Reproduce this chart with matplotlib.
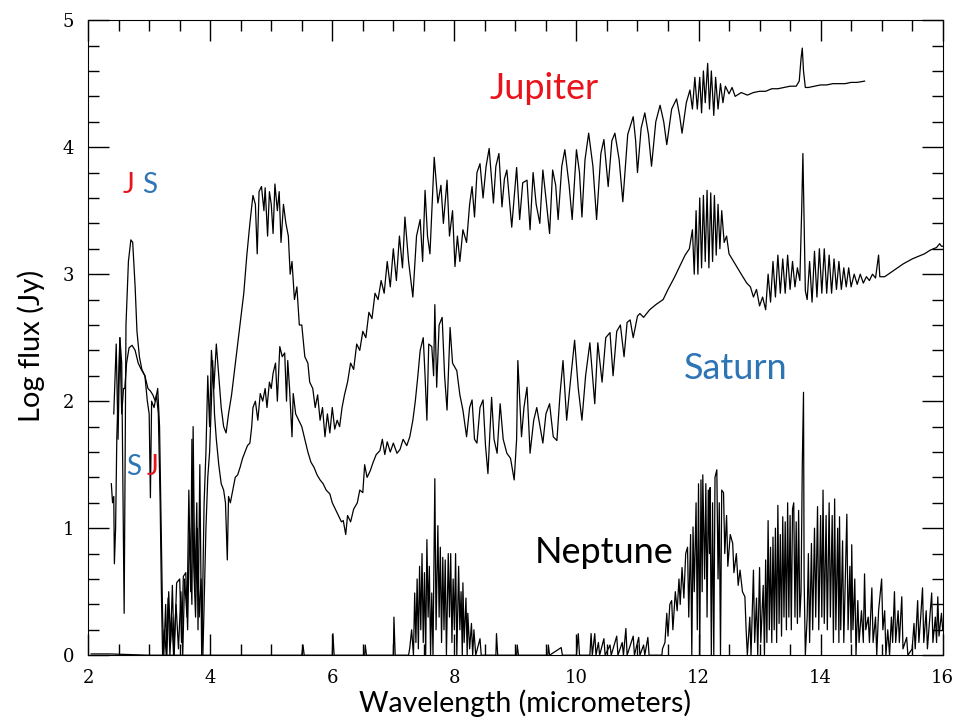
import numpy as np
import matplotlib
matplotlib.use("Agg")
import matplotlib.pyplot as plt
from matplotlib.ticker import MultipleLocator

# spectra: (wavelength um, log flux Jy)
jupiter = [
    (2.42, 1.9), (2.46, 2.45), (2.49, 1.7), (2.52, 2.5), (2.55, 2.3), (2.59, 0.33),
    (2.62, 2.6), (2.66, 3.1), (2.7, 3.27), (2.73, 3.25), (2.77, 2.9), (2.8, 2.55),
    (2.84, 2.35), (2.88, 2.25), (2.93, 2.2), (2.98, 2.1), (3.02, 2.08), (3.06, 2.05),
    (3.1, 2.0), (3.14, 2.1), (3.17, 1.8), (3.2, 0.9), (3.22, 0.3), (3.24, 0.0),
    (3.27, 0.4), (3.29, 0.0), (3.32, 0.5), (3.35, 0.1), (3.38, 0.55), (3.41, 0.0),
    (3.45, 0.57), (3.5, 0.6), (3.53, 0.1), (3.56, 0.62), (3.6, 0.65), (3.63, 0.2),
    (3.66, 1.0), (3.7, 0.4), (3.72, 1.8), (3.75, 0.5), (3.78, 1.2), (3.8, 0.2),
    (3.83, 1.5), (3.86, 0.0), (3.9, 1.2), (3.93, 1.6), (3.96, 2.2), (3.99, 1.8),
    (4.02, 2.4), (4.06, 2.1), (4.1, 2.45), (4.14, 2.2), (4.18, 1.95), (4.22, 1.8),
    (4.26, 1.75), (4.3, 1.9), (4.35, 2.05), (4.4, 2.25), (4.45, 2.45), (4.5, 2.65),
    (4.55, 2.85), (4.6, 3.15), (4.65, 3.4), (4.7, 3.62), (4.74, 3.55), (4.77, 3.16),
    (4.8, 3.65), (4.84, 3.69), (4.88, 3.5), (4.9, 3.68), (4.94, 3.3), (4.97, 3.65),
    (5.0, 3.55), (5.03, 3.32), (5.06, 3.71), (5.1, 3.5), (5.13, 3.65), (5.16, 3.25),
    (5.2, 3.55), (5.24, 3.4), (5.28, 3.3), (5.31, 3.0), (5.34, 3.1), (5.38, 2.8),
    (5.42, 2.9), (5.46, 2.6), (5.5, 2.6), (5.55, 2.35), (5.6, 2.3), (5.63, 2.15),
    (5.68, 2.1), (5.72, 1.95), (5.76, 2.05), (5.8, 1.85), (5.84, 1.95), (5.88, 1.72),
    (5.92, 1.9), (5.96, 1.75), (6.0, 1.95), (6.04, 1.78), (6.08, 1.85), (6.12, 1.8),
    (6.16, 1.95), (6.2, 2.05), (6.25, 2.15), (6.3, 2.3), (6.35, 2.25), (6.4, 2.45),
    (6.45, 2.4), (6.5, 2.55), (6.55, 2.5), (6.6, 2.7), (6.65, 2.65), (6.7, 2.85),
    (6.75, 2.8), (6.8, 2.95), (6.85, 2.85), (6.9, 3.1), (6.95, 2.9), (7.0, 3.2),
    (7.05, 2.95), (7.1, 3.3), (7.15, 3.05), (7.19, 3.45), (7.25, 3.1), (7.32, 2.82),
    (7.38, 3.3), (7.44, 3.43), (7.48, 3.1), (7.52, 3.66), (7.56, 3.3), (7.6, 3.16),
    (7.67, 3.92), (7.73, 3.56), (7.78, 3.7), (7.82, 3.4), (7.88, 3.74), (7.92, 3.3),
    (7.97, 3.5), (8.01, 3.06), (8.05, 3.3), (8.09, 3.1), (8.14, 3.35), (8.2, 3.25),
    (8.25, 3.55), (8.29, 3.69), (8.33, 3.45), (8.37, 3.8), (8.42, 3.87), (8.47, 3.6),
    (8.52, 3.85), (8.57, 3.99), (8.64, 3.56), (8.68, 3.85), (8.73, 3.95), (8.78, 3.53),
    (8.82, 3.75), (8.86, 3.82), (8.94, 3.37), (9.02, 3.84), (9.07, 3.43), (9.12, 3.72),
    (9.19, 3.74), (9.24, 3.35), (9.29, 3.8), (9.34, 3.55), (9.4, 3.4), (9.45, 3.82),
    (9.5, 3.6), (9.56, 3.32), (9.61, 3.82), (9.66, 3.7), (9.7, 3.43), (9.76, 3.85),
    (9.81, 3.98), (9.88, 3.7), (9.93, 3.43), (10.0, 3.98), (10.05, 3.8), (10.09, 3.45),
    (10.14, 3.9), (10.2, 4.11), (10.27, 3.85), (10.33, 3.43), (10.4, 3.95), (10.45, 4.06),
    (10.52, 3.69), (10.58, 4.05), (10.63, 4.11), (10.7, 3.9), (10.76, 3.57), (10.84, 4.1),
    (10.93, 4.24), (10.97, 4.05), (11.0, 3.8), (11.06, 4.15), (11.12, 4.27), (11.18, 4.1),
    (11.23, 3.85), (11.3, 4.2), (11.37, 4.33), (11.43, 4.2), (11.48, 4.02), (11.56, 4.3),
    (11.64, 4.38), (11.69, 4.25), (11.73, 4.11), (11.8, 4.35), (11.86, 4.45), (11.9, 4.3),
    (11.94, 4.55), (11.98, 4.3), (12.02, 4.55), (12.05, 4.27), (12.08, 4.6), (12.11, 4.35),
    (12.15, 4.66), (12.18, 4.3), (12.21, 4.6), (12.25, 4.25), (12.28, 4.55), (12.32, 4.3),
    (12.36, 4.5), (12.4, 4.35), (12.44, 4.48), (12.5, 4.42), (12.55, 4.47), (12.6, 4.4),
    (12.7, 4.43), (12.8, 4.41), (12.9, 4.43), (13.0, 4.44), (13.1, 4.44), (13.2, 4.46),
    (13.3, 4.46), (13.4, 4.47), (13.5, 4.48), (13.6, 4.48), (13.65, 4.52), (13.68, 4.7),
    (13.7, 4.78), (13.72, 4.6), (13.75, 4.47), (13.8, 4.47), (13.9, 4.48), (14.0, 4.49),
    (14.1, 4.49), (14.2, 4.5), (14.3, 4.5), (14.4, 4.5), (14.5, 4.51), (14.6, 4.51),
    (14.72, 4.52),
]

saturn = [
    (2.38, 1.35), (2.4, 1.2), (2.42, 1.25), (2.43, 0.72), (2.45, 1.0), (2.47, 1.72),
    (2.5, 2.2), (2.52, 2.5), (2.55, 1.9), (2.58, 2.1), (2.6, 2.1), (2.63, 2.3),
    (2.67, 2.42), (2.72, 2.44), (2.77, 2.4), (2.82, 2.3), (2.87, 2.25), (2.93, 2.2),
    (2.97, 2.0), (3.0, 1.9), (3.02, 1.24), (3.04, 2.0), (3.08, 1.95), (3.12, 2.05),
    (3.15, 1.9), (3.18, 1.2), (3.2, 0.5), (3.22, 0.0), (3.25, 0.2), (3.28, 0.0),
    (3.31, 0.45), (3.34, 0.0), (3.37, 0.3), (3.4, 0.0), (3.44, 0.4), (3.48, 0.05),
    (3.52, 0.5), (3.55, 0.0), (3.58, 0.6), (3.62, 0.3), (3.65, 1.3), (3.68, 0.5),
    (3.7, 1.7), (3.73, 0.7), (3.76, 0.3), (3.79, 1.0), (3.82, 0.3), (3.85, 0.6),
    (3.88, 0.0), (3.9, 0.4), (3.93, 1.0), (3.96, 1.4), (3.99, 1.6), (4.02, 2.0),
    (4.04, 2.32), (4.07, 1.9), (4.1, 1.7), (4.14, 1.5), (4.18, 1.35), (4.22, 1.3),
    (4.25, 1.2), (4.28, 0.75), (4.3, 1.25), (4.33, 1.2), (4.37, 1.3), (4.41, 1.4),
    (4.45, 1.42), (4.49, 1.48), (4.53, 1.55), (4.57, 1.6), (4.61, 1.65), (4.65, 1.67),
    (4.68, 1.8), (4.7, 1.95), (4.74, 2.0), (4.78, 1.85), (4.82, 2.06), (4.86, 2.0),
    (4.9, 2.1), (4.93, 1.95), (4.97, 2.15), (5.0, 2.1), (5.03, 2.22), (5.07, 2.3),
    (5.1, 2.0), (5.14, 2.43), (5.18, 2.35), (5.22, 2.38), (5.25, 2.0), (5.27, 2.32),
    (5.3, 2.1), (5.34, 1.72), (5.36, 2.06), (5.4, 1.9), (5.45, 1.85), (5.5, 1.8),
    (5.55, 1.7), (5.6, 1.6), (5.65, 1.52), (5.7, 1.48), (5.75, 1.42), (5.8, 1.38),
    (5.85, 1.35), (5.9, 1.3), (5.96, 1.27), (6.0, 1.2), (6.05, 1.15), (6.1, 1.1),
    (6.15, 1.05), (6.18, 1.06), (6.22, 0.95), (6.25, 1.1), (6.3, 1.05), (6.35, 1.15),
    (6.41, 1.2), (6.45, 1.3), (6.5, 1.28), (6.53, 1.5), (6.57, 1.4), (6.62, 1.45),
    (6.67, 1.52), (6.72, 1.58), (6.78, 1.61), (6.82, 1.7), (6.86, 1.58), (6.9, 1.68),
    (6.95, 1.6), (7.0, 1.67), (7.06, 1.59), (7.11, 1.62), (7.16, 1.7), (7.22, 1.65),
    (7.27, 1.72), (7.32, 1.85), (7.36, 2.0), (7.4, 2.19), (7.44, 2.4), (7.49, 2.5),
    (7.52, 2.2), (7.55, 1.85), (7.58, 2.45), (7.63, 2.43), (7.66, 2.2), (7.68, 2.76),
    (7.71, 2.11), (7.75, 2.6), (7.8, 2.66), (7.84, 2.2), (7.88, 1.93), (7.93, 2.58),
    (7.97, 2.3), (8.04, 2.24), (8.09, 2.05), (8.14, 1.93), (8.2, 1.72), (8.25, 1.95),
    (8.29, 2.01), (8.33, 1.7), (8.37, 1.67), (8.42, 1.95), (8.47, 2.01), (8.51, 1.65),
    (8.55, 1.43), (8.61, 2.03), (8.65, 1.7), (8.7, 1.59), (8.75, 1.98), (8.8, 1.7),
    (8.86, 1.59), (8.92, 1.55), (8.98, 1.38), (9.02, 1.7), (9.04, 2.32), (9.1, 1.72),
    (9.14, 1.95), (9.19, 2.11), (9.24, 1.59), (9.3, 1.85), (9.35, 1.95), (9.45, 1.67),
    (9.5, 1.9), (9.56, 1.98), (9.62, 1.72), (9.68, 1.69), (9.73, 2.05), (9.78, 2.32),
    (9.84, 1.85), (9.9, 2.15), (9.97, 2.48), (10.03, 2.1), (10.09, 1.85), (10.15, 2.2),
    (10.22, 2.46), (10.3, 1.98), (10.35, 2.46), (10.42, 2.15), (10.48, 2.5), (10.55, 2.54),
    (10.6, 2.2), (10.66, 2.55), (10.72, 2.6), (10.78, 2.35), (10.83, 2.62), (10.88, 2.64),
    (10.93, 2.5), (11.0, 2.67), (11.04, 2.69), (11.1, 2.66), (11.2, 2.72), (11.3, 2.76),
    (11.42, 2.8), (11.5, 2.88), (11.6, 2.97), (11.69, 3.06), (11.78, 3.15), (11.85, 3.2),
    (11.9, 3.35), (11.93, 3.0), (11.96, 3.5), (11.99, 3.0), (12.02, 3.6), (12.05, 3.05),
    (12.08, 3.62), (12.11, 3.1), (12.14, 3.66), (12.17, 3.05), (12.2, 3.64), (12.23, 3.1),
    (12.26, 3.62), (12.29, 3.15), (12.32, 3.55), (12.35, 3.2), (12.38, 3.5), (12.42, 3.25),
    (12.46, 3.3), (12.5, 3.16), (12.6, 3.08), (12.7, 3.0), (12.79, 2.93), (12.85, 2.9),
    (12.9, 2.82), (12.95, 2.88), (13.0, 2.75), (13.05, 2.82), (13.1, 2.72), (13.14, 3.0),
    (13.18, 2.78), (13.22, 3.1), (13.26, 2.82), (13.3, 3.15), (13.34, 2.85), (13.38, 3.12),
    (13.42, 2.85), (13.46, 3.15), (13.5, 2.88), (13.54, 3.1), (13.58, 2.9), (13.62, 3.05),
    (13.66, 2.95), (13.69, 3.5), (13.71, 3.95), (13.73, 3.4), (13.75, 2.87), (13.78, 2.8),
    (13.82, 3.1), (13.86, 2.78), (13.9, 3.18), (13.94, 2.82), (13.98, 3.2), (14.02, 2.85),
    (14.06, 3.2), (14.1, 2.85), (14.14, 3.15), (14.18, 2.85), (14.22, 3.12), (14.26, 2.88),
    (14.3, 3.1), (14.34, 2.88), (14.38, 3.05), (14.42, 2.9), (14.46, 3.05), (14.5, 2.9),
    (14.55, 3.0), (14.6, 2.92), (14.65, 3.0), (14.7, 2.93), (14.75, 2.98), (14.8, 2.95),
    (14.85, 3.0), (14.9, 2.97), (14.95, 3.15), (14.97, 2.98), (15.05, 2.98), (15.2, 3.03),
    (15.35, 3.08), (15.5, 3.12), (15.6, 3.14), (15.7, 3.16), (15.8, 3.19), (15.9, 3.21),
    (15.95, 3.24), (15.98, 3.22), (16.0, 3.22),
]

neptune = [
    (2.05, 0.01), (2.35, 0.01), (3.0, 0.0), (5.5, 0.0), (5.52, 0.08), (5.54, 0.0),
    (6.0, 0.0), (6.01, 0.17), (6.03, 0.0), (6.53, 0.0), (6.54, 0.08), (6.56, 0.0),
    (7.0, 0.0), (7.01, 0.3), (7.03, 0.0), (7.25, 0.0), (7.27, 0.06), (7.3, 0.2),
    (7.33, 0.0), (7.35, 0.49), (7.37, 0.1), (7.39, 0.6), (7.41, 0.05), (7.43, 0.7),
    (7.45, 0.2), (7.47, 0.8), (7.49, 0.1), (7.51, 0.65), (7.53, 0.0), (7.55, 0.91),
    (7.57, 0.3), (7.59, 0.7), (7.61, 0.0), (7.63, 0.49), (7.65, 0.0), (7.68, 1.39),
    (7.7, 0.2), (7.73, 1.02), (7.75, 0.3), (7.77, 0.85), (7.79, 0.1), (7.81, 0.77),
    (7.83, 0.2), (7.85, 0.75), (7.87, 0.0), (7.9, 0.8), (7.92, 0.3), (7.94, 0.8),
    (7.96, 0.1), (7.98, 0.6), (8.0, 0.2), (8.02, 0.8), (8.04, 0.0), (8.07, 0.7),
    (8.09, 0.2), (8.11, 0.5), (8.13, 0.0), (8.14, 0.57), (8.16, 0.1), (8.19, 0.45),
    (8.21, 0.0), (8.22, 0.33), (8.25, 0.05), (8.28, 0.25), (8.3, 0.0), (8.32, 0.2),
    (8.35, 0.0), (8.42, 0.13), (8.44, 0.0), (8.68, 0.0), (8.69, 0.17), (8.71, 0.0),
    (9.02, 0.0), (9.03, 0.08), (9.05, 0.0), (9.53, 0.0), (9.54, 0.08), (9.56, 0.0),
    (9.75, 0.06), (9.77, 0.0), (10.0, 0.0), (10.03, 0.17), (10.05, 0.0), (10.22, 0.0),
    (10.24, 0.17), (10.26, 0.0), (10.3, 0.17), (10.32, 0.0), (10.36, 0.1), (10.38, 0.0),
    (10.45, 0.13), (10.47, 0.0), (10.55, 0.08), (10.57, 0.0), (10.66, 0.15), (10.68, 0.0),
    (10.75, 0.1), (10.77, 0.0), (10.81, 0.21), (10.83, 0.0), (10.93, 0.15), (10.95, 0.0),
    (11.02, 0.14), (11.04, 0.0), (11.1, 0.08), (11.12, 0.0), (11.17, 0.14), (11.19, 0.0),
    (11.4, 0.0), (11.41, 0.05), (11.45, 0.1), (11.48, 0.33), (11.5, 0.15), (11.53, 0.4),
    (11.56, 0.43), (11.58, 0.2), (11.62, 0.5), (11.65, 0.35), (11.68, 0.6), (11.7, 0.4),
    (11.73, 0.69), (11.76, 0.45), (11.79, 0.8), (11.82, 0.85), (11.84, 0.3), (11.87, 0.95),
    (11.89, 0.0), (11.91, 1.01), (11.93, 0.5), (11.96, 1.2), (11.98, 0.2), (12.0, 1.35),
    (12.02, 0.0), (12.04, 1.38), (12.06, 0.5), (12.07, 1.42), (12.1, 0.6), (12.12, 1.35),
    (12.14, 0.3), (12.16, 1.3), (12.18, 0.8), (12.19, 1.32), (12.21, 0.0), (12.23, 1.2),
    (12.25, 0.0), (12.27, 1.4), (12.3, 1.46), (12.32, 0.6), (12.34, 1.2), (12.36, 0.0),
    (12.38, 1.3), (12.41, 1.28), (12.43, 0.8), (12.46, 1.1), (12.48, 0.7), (12.52, 0.95),
    (12.56, 0.88), (12.58, 0.65), (12.62, 0.8), (12.65, 0.55), (12.68, 0.67), (12.72, 0.5),
    (12.76, 0.46), (12.78, 0.2), (12.8, 0.0), (12.84, 0.3), (12.86, 0.0), (12.9, 0.67),
    (12.92, 0.1), (12.95, 0.45), (12.97, 0.0), (13.0, 0.69), (13.02, 0.1), (13.06, 0.55),
    (13.08, 0.0), (13.1, 0.75), (13.12, 0.1), (13.14, 1.06), (13.16, 0.2), (13.18, 0.85),
    (13.2, 0.1), (13.22, 0.93), (13.24, 0.2), (13.26, 1.0), (13.28, 0.1), (13.3, 1.18),
    (13.32, 0.25), (13.34, 0.95), (13.36, 0.15), (13.38, 1.09), (13.4, 0.3), (13.42, 1.05),
    (13.44, 0.2), (13.46, 1.2), (13.48, 0.3), (13.5, 1.1), (13.52, 0.2), (13.54, 1.15),
    (13.56, 1.2), (13.58, 0.3), (13.6, 1.05), (13.62, 0.25), (13.64, 1.14), (13.66, 0.3),
    (13.68, 0.5), (13.7, 1.5), (13.72, 2.07), (13.73, 0.6), (13.75, 0.0), (13.78, 0.3),
    (13.8, 0.8), (13.82, 0.1), (13.85, 0.88), (13.87, 0.2), (13.9, 1.0), (13.92, 0.3),
    (13.95, 1.17), (13.97, 0.2), (14.0, 1.1), (14.02, 0.3), (14.04, 1.3), (14.06, 0.25),
    (14.09, 1.1), (14.11, 0.2), (14.14, 1.2), (14.16, 0.3), (14.19, 1.1), (14.21, 0.1),
    (14.23, 1.23), (14.25, 0.2), (14.28, 1.0), (14.3, 0.1), (14.31, 1.09), (14.33, 0.2),
    (14.36, 0.9), (14.38, 0.1), (14.43, 1.11), (14.45, 0.2), (14.48, 0.7), (14.5, 0.1),
    (14.51, 0.87), (14.53, 0.2), (14.56, 0.6), (14.58, 0.0), (14.61, 0.43), (14.63, 0.1),
    (14.67, 0.35), (14.7, 0.1), (14.72, 0.64), (14.74, 0.2), (14.78, 0.3), (14.8, 0.1),
    (14.84, 0.53), (14.86, 0.1), (14.9, 0.3), (14.92, 0.0), (14.95, 0.35), (15.0, 0.6),
    (15.02, 0.2), (15.05, 0.35), (15.07, 0.0), (15.1, 0.2), (15.13, 0.0), (15.16, 0.3),
    (15.18, 0.1), (15.21, 0.5), (15.23, 0.1), (15.27, 0.35), (15.29, 0.1), (15.33, 0.46),
    (15.35, 0.05), (15.41, 0.14), (15.43, 0.0), (15.5, 0.05), (15.53, 0.25), (15.55, 0.05),
    (15.59, 0.43), (15.61, 0.1), (15.64, 0.3), (15.67, 0.53), (15.69, 0.1), (15.73, 0.35),
    (15.75, 0.05), (15.79, 0.3), (15.82, 0.49), (15.84, 0.1), (15.88, 0.3), (15.9, 0.1),
    (15.92, 0.46), (15.94, 0.15), (15.98, 0.33), (16.0, 0.2),
]

RED = '#e8131b'
BLUE = '#2e75b6'
SANS = 'Lato'

fig = plt.figure(figsize=(9.58, 7.2), dpi=100)
ax = fig.add_axes([0.092, 0.090, 0.892, 0.882])

for spec in (jupiter, saturn, neptune):
    wl, flux = np.array(spec).T
    ax.plot(wl, flux, color='black', lw=0.9)

ax.set_xlim(2, 16)
ax.set_ylim(0, 5)
ax.xaxis.set_major_locator(MultipleLocator(2))
ax.xaxis.set_minor_locator(MultipleLocator(0.5))
ax.yaxis.set_major_locator(MultipleLocator(1))
ax.yaxis.set_minor_locator(MultipleLocator(0.2))
ax.tick_params(which='both', direction='in', top=True, right=True, width=1)
ax.tick_params(which='major', length=15)
ax.tick_params(which='minor', length=8)
ax.tick_params(axis='x', pad=10)
ax.tick_params(axis='y', pad=10)
for lab in ax.get_xticklabels() + ax.get_yticklabels():
    lab.set_family('DejaVu Serif')
    lab.set_fontsize(13)

ax.set_xlabel('Wavelength (micrometers)', family=SANS, fontsize=20.5)
ax.xaxis.set_label_coords(0.511, -0.054)
ax.xaxis.label.set_va('top')
ax.set_ylabel('Log flux (Jy)', family=SANS, fontsize=21)
ax.yaxis.set_label_coords(-0.05, 0.487)

ax.text(9.47, 4.46, 'Jupiter', color=RED, family=SANS, fontsize=26, ha='center', va='center')
ax.text(12.61, 2.26, 'Saturn', color=BLUE, family=SANS, fontsize=26, ha='center', va='center')
ax.text(10.45, 0.81, 'Neptune', color='black', family=SANS, fontsize=26, ha='center', va='center')
ax.text(2.66, 3.7, 'J', color=RED, family=SANS, fontsize=20, ha='center', va='center')
ax.text(3.0, 3.7, 'S', color=BLUE, family=SANS, fontsize=20, ha='center', va='center')
ax.text(2.74, 1.48, 'S', color=BLUE, family=SANS, fontsize=20, ha='center', va='center')
ax.text(3.06, 1.48, 'J', color=RED, family=SANS, fontsize=20, ha='center', va='center')

fig.savefig('out.png', dpi=100)
